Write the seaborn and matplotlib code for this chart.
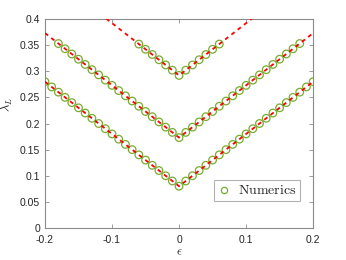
import numpy as np
import pandas as pd
import matplotlib
matplotlib.use("Agg")
import matplotlib.pyplot as plt
import seaborn as sns

# Numerical data
eps_low = [-0.20, -0.19, -0.18, -0.17, -0.16, -0.15, -0.14, -0.13, -0.12, -0.11,
           -0.10, -0.09, -0.08, -0.07, -0.06, -0.05, -0.04, -0.03, -0.02, -0.01,
           0.00, 0.01, 0.02, 0.03, 0.04, 0.05, 0.06, 0.07, 0.08, 0.09,
           0.10, 0.11, 0.12, 0.13, 0.14, 0.15, 0.16, 0.17, 0.18, 0.19, 0.20]
lam_low = [0.280, 0.270, 0.260, 0.250, 0.240, 0.230, 0.220, 0.210, 0.200, 0.190,
           0.180, 0.170, 0.160, 0.150, 0.140, 0.130, 0.120, 0.110, 0.100, 0.090,
           0.080, 0.090, 0.100, 0.110, 0.120, 0.130, 0.140, 0.150, 0.160, 0.170,
           0.180, 0.190, 0.200, 0.210, 0.220, 0.230, 0.240, 0.250, 0.260, 0.270, 0.280]

eps_mid = [-0.18, -0.17, -0.16, -0.15, -0.14, -0.13, -0.12, -0.11, -0.10, -0.09,
           -0.08, -0.07, -0.06, -0.05, -0.04, -0.03, -0.02, -0.01, 0.00, 0.01,
           0.02, 0.03, 0.04, 0.05, 0.06, 0.07, 0.08, 0.09, 0.10, 0.11,
           0.12, 0.13, 0.14, 0.15, 0.16, 0.17, 0.18]
lam_mid = [0.353, 0.343, 0.333, 0.323, 0.313, 0.303, 0.293, 0.283, 0.273, 0.263,
           0.253, 0.243, 0.233, 0.223, 0.213, 0.203, 0.193, 0.183, 0.173, 0.183,
           0.193, 0.203, 0.213, 0.223, 0.233, 0.243, 0.253, 0.263, 0.273, 0.283,
           0.293, 0.303, 0.313, 0.323, 0.333, 0.343, 0.353]

eps_up = [-0.06, -0.05, -0.04, -0.03, -0.02, -0.01, 0.00, 0.01, 0.02, 0.03, 0.04, 0.05, 0.06]
lam_up = [0.352, 0.342, 0.332, 0.322, 0.312, 0.302, 0.292, 0.302, 0.312, 0.322, 0.332, 0.342, 0.352]

# Theory lines (V shapes)
eps_th = [-0.2, 0.0, 0.2]
th_low = [0.280, 0.080, 0.280]
th_mid = [0.373, 0.173, 0.373]
th_up = [0.492, 0.292, 0.492]

num = pd.concat([
    pd.DataFrame({"eps": eps_low, "lam": lam_low, "branch": "low"}),
    pd.DataFrame({"eps": eps_mid, "lam": lam_mid, "branch": "mid"}),
    pd.DataFrame({"eps": eps_up, "lam": lam_up, "branch": "up"}),
])
theory = pd.concat([
    pd.DataFrame({"eps": eps_th, "lam": th_low, "branch": "low"}),
    pd.DataFrame({"eps": eps_th, "lam": th_mid, "branch": "mid"}),
    pd.DataFrame({"eps": eps_th, "lam": th_up, "branch": "up"}),
])

sns.set_theme(style="white")
plt.rcParams["font.family"] = ["Liberation Sans", "DejaVu Sans"]
plt.rcParams["mathtext.fontset"] = "cm"

green = "#77AC30"
axcol = "#8c8c8c"

fig = plt.figure(figsize=(3.46, 2.60), dpi=100)
ax = fig.add_axes([0.130, 0.123, 0.775, 0.804])

sns.scatterplot(data=num, x="eps", y="lam", marker="o", s=30,
                facecolors="none", edgecolor=green, linewidth=0.9,
                ax=ax, zorder=2, legend=False)
for b in ["low", "mid", "up"]:
    d = theory[theory["branch"] == b]
    sns.lineplot(data=d, x="eps", y="lam", color="red", lw=1.3,
                 ax=ax, zorder=3, legend=False,
                 linestyle=(0, (2.2, 2.2)))

ax.set_xlim(-0.2, 0.2)
ax.set_ylim(0, 0.4)
ax.set_xticks([-0.2, -0.1, 0, 0.1, 0.2])
ax.set_xticklabels(["-0.2", "-0.1", "0", "0.1", "0.2"])
ax.set_yticks([0, 0.05, 0.1, 0.15, 0.2, 0.25, 0.3, 0.35, 0.4])
ax.set_yticklabels(["0", "0.05", "0.1", "0.15", "0.2", "0.25", "0.3", "0.35", "0.4"])
ax.tick_params(direction="in", length=3, width=0.6, color=axcol,
               labelsize=7.5, labelcolor="#262626", top=True, right=True,
               bottom=True, left=True)
ax.tick_params(axis="x", pad=5)
ax.tick_params(axis="y", pad=3.5)
for sp in ax.spines.values():
    sp.set_color(axcol)
    sp.set_linewidth(0.8)

ax.set_xlabel(r"$\epsilon$", fontsize=9, color="#262626", labelpad=1)
ax.set_ylabel(r"$\lambda_L$", fontsize=9, color="#262626")
ax.yaxis.set_label_coords(-0.112, 0.59)

h = plt.Line2D([], [], marker="o", ls="none", mfc="none", mec=green, ms=4.5, mew=0.9)
leg = ax.legend([h], [r"$\mathrm{Numerics}$"], loc="lower right",
                bbox_to_anchor=(0.95, 0.13), fontsize=10, frameon=True,
                fancybox=False, handlelength=1.0, handletextpad=0.5,
                borderpad=0.25, borderaxespad=0)
leg.get_frame().set_edgecolor("#a0a0a0")
leg.get_frame().set_linewidth(0.8)

fig.savefig("out.png", dpi=100)
